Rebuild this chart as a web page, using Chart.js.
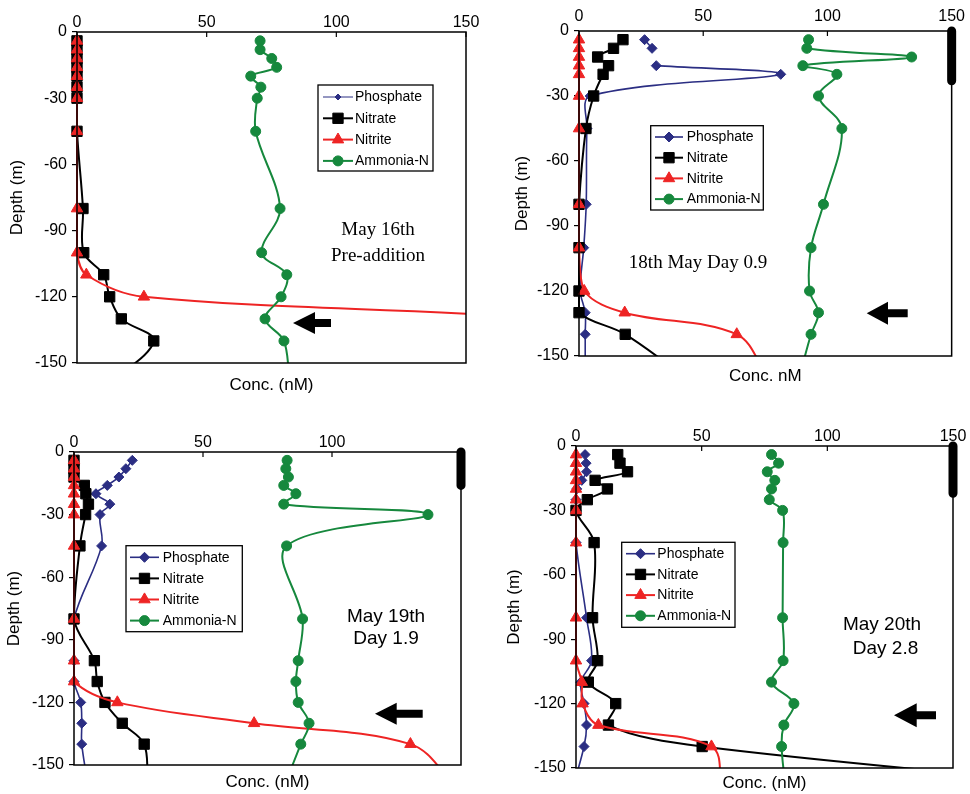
<!DOCTYPE html>
<html>
<head>
<meta charset="utf-8">
<script src="https://cdn.jsdelivr.net/npm/chart.js@4.4.1/dist/chart.umd.min.js"></script>
<style>
body { margin: 0; background: #fff; width: 970px; height: 794px; position: relative; overflow: hidden; }
canvas { position: absolute; }
</style>
</head>
<body>
<canvas id="c1" width="485" height="397" style="left:0;top:0"></canvas>
<canvas id="c2" width="485" height="397" style="left:485px;top:0"></canvas>
<canvas id="c3" width="485" height="397" style="left:0;top:397px"></canvas>
<canvas id="c4" width="485" height="397" style="left:485px;top:397px"></canvas>
<script>
// sampling depths (m); the last depth lies below the plotted range
var depths = [-4, -8, -12, -16, -20, -25, -30, -45, -80, -100, -110, -120, -130, -140, -160];
var depthsDay09 = [-4, -8, -12, -16, -20, -30, -45, -80, -100, -120, -130, -140, -160];

// May 16th, pre-addition
var phos1 = [];
var nitrate1 = [0, 0, 0, 0, 0, 0, 0, 0, 2.3, 2.6, 10.3, 12.6, 17.1, 29.6, 12];
var nitrite1 = [0, 0, 0, 0, 0, 0, 0, 0, 0, 0, 3.6, 25.8, 180, 230, null];
var ammonia1 = [70.6, 70.6, 75.1, 77.0, 67.0, 70.9, 69.5, 68.9, 78.3, 71.2, 80.9, 78.7, 72.5, 79.8, 82];

// 18th May, day 0.9
var phos2 = [26.4, 29.4, null, 31.1, 81.2, 4.5, 3.2, 2.9, 1.9, 0.5, 2.5, 2.5, 2.5];
var nitrate2 = [17.7, 13.9, 7.5, 11.9, 9.7, 5.9, 2.8, 0, 0, 0, 0, 18.6, 43];
var nitrite2 = [0, 0, 0, 0, 0, 0, 0, 0, 0, 2.1, 18.4, 63.5, 76];
var ammonia2 = [92.4, 91.7, 133.9, 90.1, 103.8, 96.4, 105.8, 98.4, 93.4, 92.8, 96.4, 93.4, 88.6];

// May 19th, day 1.9
var phos3 = [22.6, 20.1, 17.4, 12.9, 8.5, 13.9, 10.1, 10.7, 0, 0, 0, 2.6, 3.0, 3.0, 5.5];
var nitrate3 = [0, 0, 0, 4.0, 4.6, 5.6, 4.5, 2.3, 0, 7.9, 9.0, 12.0, 18.7, 27.2, 28.5];
var nitrite3 = [0, 0, 0, 0, 0, 0, 0, 0, 0, 0, 0, 16.8, 69.8, 130.4, 148];
var ammonia3 = [82.6, 82.1, 83.1, 81.3, 86.0, 81.3, 137.2, 82.4, 88.6, 86.9, 86.0, 86.9, 91.1, 87.9, 81.5];

// May 20th, day 2.8
var phos4 = [3.6, 4.0, 4.2, 2.3, 0.3, 0, 0, 0, 4.2, 6.2, 1.9, 3.2, 4.2, 3.2, -1.5];
var nitrate4 = [16.6, 17.5, 20.5, 7.6, 12.5, 4.5, 0, 7.2, 6.6, 8.6, 4.9, 15.8, 12.9, 50.2, 221];
var nitrite4 = [0, 0, 0, 0, 0, 0, 0, 0, 0, 0, 2.3, 2.6, 8.9, 53.9, 58];
var ammonia4 = [77.8, 80.6, 76.1, 79.1, 77.8, 76.9, 82.2, 82.4, 82.2, 82.4, 77.8, 86.7, 82.7, 81.8, 83.5];

// mixed layer bar at the right edge (depth of its bottom), none on May 16th
var mixLayer = [null, -23, -16, -22];

var seriesNames = ['Phosphate', 'Nitrate', 'Nitrite', 'Ammonia-N'];
var concTicks = [0, 50, 100, 150];
var depthTicks = [0, -30, -60, -90, -120, -150];
var xTitles = ['Conc. (nM)', 'Conc. nM', 'Conc. (nM)', 'Conc. (nM)'];
var notes = [['May 16th', 'Pre-addition'], ['18th May Day 0.9'], ['May 19th', 'Day 1.9'], ['May 20th', 'Day 2.8']];

var styles = [
    { color: '#2B2E83', point: 'rectRot', r: 5, w: 1.6 },
    { color: '#000000', point: 'rect', r: 7.3, w: 2 },
    { color: '#EE2424', point: 'triangle', r: 6.6, w: 2 },
    { color: '#16883D', point: 'circle', r: 5, w: 2 }
];

var panels = [
    { id: 'c1', depth: depths, vals: [phos1, nitrate1, nitrite1, ammonia1], area: [77, 32, 466, 363], tickPad: 0,
      yTitlePad: 7.4, xTitlePad: 1.4, noteFont: '19px "Liberation Serif"', noteXY: [[378, 230], [378, 256]],
      arrow: { tip: 293, base: 315, tail: 331, y: 323, head: 22, shaft: 8 },
      legend: { x: 318, y: 85, w: 115, h: 86, row0: 97, gap: 21.3, lx: 323, len: 30, tx: 355 }, thinPhos: true },
    { id: 'c2', depth: depthsDay09, vals: [phos2, nitrate2, nitrite2, ammonia2], area: [94, 31, 467, 356], tickPad: 5,
      yTitlePad: 27.4, xTitlePad: 10.4, noteFont: '19px "Liberation Serif"', noteXY: [[213, 263]],
      arrow: { tip: 381.7, base: 403, tail: 422.7, y: 313.3, head: 23, shaft: 8 },
      legend: { x: 165.7, y: 125.7, w: 112.6, h: 84.3, row0: 137, gap: 20.7, lx: 170, len: 28, tx: 201.7 } },
    { id: 'c3', depth: depths, vals: [phos3, nitrate3, nitrite3, ammonia3], area: [74, 55, 461, 368], tickPad: 0,
      yTitlePad: 4.4, xTitlePad: 1.4, noteFont: '19px "Liberation Sans"', noteXY: [[386, 219.7], [386, 241.3]],
      arrow: { tip: 375, base: 396.7, tail: 422.7, y: 316.8, head: 22, shaft: 8 },
      legend: { x: 126, y: 148.7, w: 116.3, h: 86, row0: 160.3, gap: 21.1, lx: 130, len: 29, tx: 162.7 }, hide150: true },
    { id: 'c4', depth: depths, vals: [phos4, nitrate4, nitrite4, ammonia4], area: [91, 49, 468, 371], tickPad: 0,
      yTitlePad: 19.4, xTitlePad: 0, noteFont: '19px "Liberation Sans"', noteXY: [[397, 228], [400.5, 251.3]],
      arrow: { tip: 409, base: 431.7, tail: 451, y: 318.3, head: 24, shaft: 8 },
      legend: { x: 136.7, y: 145.3, w: 113.3, h: 85, row0: 156.7, gap: 20.7, lx: 141, len: 29, tx: 172.3 } }
];

Chart.defaults.font.family = '"Liberation Sans", Arial, sans-serif';
Chart.defaults.font.size = 16;
Chart.defaults.color = '#000';

function marker(ctx, st, x, y) {
    if (Chart.helpers && Chart.helpers.drawPoint) {
        ctx.fillStyle = st.color;
        ctx.strokeStyle = st.color;
        ctx.lineWidth = 1;
        Chart.helpers.drawPoint(ctx, { pointStyle: st.point, radius: st.r, rotation: 0, borderWidth: 1 }, x, y);
    }
}

var decor = {
    id: 'decor',
    afterDatasetsDraw: function (chart, args, o) {
        var ctx = chart.ctx, a = chart.chartArea, xs = chart.scales.x;
        ctx.save();
        ctx.strokeStyle = '#000';
        ctx.lineWidth = 1.2;
        concTicks.forEach(function (v) {
            var px = xs.getPixelForValue(v);
            ctx.beginPath();
            ctx.moveTo(px, a.top);
            ctx.lineTo(px, a.top + 5);
            ctx.stroke();
        });
        ctx.lineWidth = 1.5;
        ctx.strokeRect(a.left, a.top, a.right - a.left, a.bottom - a.top);

        // date notes
        ctx.fillStyle = '#000';
        ctx.font = o.p.noteFont;
        ctx.textAlign = 'center';
        ctx.textBaseline = 'middle';
        o.note.forEach(function (t, i) {
            ctx.fillText(t, o.p.noteXY[i][0], o.p.noteXY[i][1]);
        });

        // arrow
        var ar = o.p.arrow;
        ctx.beginPath();
        ctx.moveTo(ar.tip, ar.y);
        ctx.lineTo(ar.base, ar.y - ar.head / 2);
        ctx.lineTo(ar.base, ar.y - ar.shaft / 2);
        ctx.lineTo(ar.tail, ar.y - ar.shaft / 2);
        ctx.lineTo(ar.tail, ar.y + ar.shaft / 2);
        ctx.lineTo(ar.base, ar.y + ar.shaft / 2);
        ctx.lineTo(ar.base, ar.y + ar.head / 2);
        ctx.closePath();
        ctx.fill();

        // boxed legend
        var lg = o.p.legend;
        ctx.fillStyle = '#fff';
        ctx.fillRect(lg.x, lg.y, lg.w, lg.h);
        ctx.strokeStyle = '#000';
        ctx.lineWidth = 1.3;
        ctx.strokeRect(lg.x, lg.y, lg.w, lg.h);
        seriesNames.forEach(function (name, i) {
            var st = o.styles[i];
            var ry = lg.row0 + i * lg.gap;
            ctx.strokeStyle = st.color;
            ctx.lineWidth = st.w;
            ctx.beginPath();
            ctx.moveTo(lg.lx, ry);
            ctx.lineTo(lg.lx + lg.len, ry);
            ctx.stroke();
            marker(ctx, st, lg.lx + lg.len / 2, ry);
            ctx.fillStyle = '#000';
            ctx.font = '14px "Liberation Sans"';
            ctx.textAlign = 'left';
            ctx.textBaseline = 'middle';
            ctx.fillText(name, lg.tx, ry + 0.5);
        });
        ctx.restore();
    }
};

function toXY(dep, vals) {
    return vals.map(function (v, i) { return { x: v, y: dep[i] }; });
}

panels.forEach(function (p, k) {
    var W = 485, H = 397;
    var st = styles.map(function (s, i) {
        if (i === 0 && p.thinPhos) return { color: s.color, point: s.point, r: 3, w: 1 };
        return s;
    });
    var datasets = seriesNames.map(function (name, i) {
        return {
            label: name,
            data: toXY(p.depth, p.vals[i]),
            showLine: true,
            borderColor: st[i].color,
            backgroundColor: st[i].color,
            borderWidth: st[i].w,
            pointStyle: st[i].point,
            pointRadius: st[i].r,
            pointHoverRadius: st[i].r,
            pointBorderWidth: 1,
            pointBackgroundColor: st[i].color,
            pointBorderColor: st[i].color,
            tension: 0.35,
            order: 3 - i,
            clip: { left: 10, top: 10, right: 0, bottom: 0 }
        };
    });
    if (mixLayer[k] !== null) {
        datasets.push({
            label: 'mixed layer',
            data: [{ x: concTicks[3], y: 0 }, { x: concTicks[3], y: mixLayer[k] }],
            showLine: true,
            borderColor: '#000',
            borderWidth: 9,
            borderCapStyle: 'round',
            pointRadius: 0,
            tension: 0,
            order: -1,
            clip: false
        });
    }
    new Chart(document.getElementById(p.id), {
        type: 'scatter',
        data: { datasets: datasets },
        plugins: [decor],
        options: {
            responsive: false,
            animation: false,
            events: [],
            layout: { padding: { left: 0, top: 0, right: W - p.area[2], bottom: 0 } },
            plugins: {
                legend: { display: false },
                tooltip: { enabled: false },
                decor: { p: p, note: notes[k], styles: st }
            },
            scales: {
                x: {
                    type: 'linear', position: 'top', min: 0, max: 150,
                    afterBuildTicks: function (s) { s.ticks = concTicks.map(function (v) { return { value: v }; }); },
                    afterFit: function (s) { s.height = p.area[1]; },
                    grid: { display: false, drawTicks: false },
                    border: { display: false },
                    ticks: {
                        padding: p.tickPad, maxRotation: 0,
                        callback: function (v) { return (p.hide150 && v === 150) ? '' : v; }
                    }
                },
                xb: {
                    type: 'linear', position: 'bottom', min: 0, max: 150,
                    afterFit: function (s) { s.height = H - p.area[3]; },
                    grid: { display: false, drawTicks: false },
                    border: { display: false },
                    ticks: { display: false },
                    title: { display: true, text: xTitles[k], font: { size: 17 }, padding: { top: 0, bottom: p.xTitlePad } }
                },
                y: {
                    type: 'linear', position: 'left', min: -150, max: 0,
                    afterBuildTicks: function (s) { s.ticks = depthTicks.map(function (v) { return { value: v }; }); },
                    afterFit: function (s) { s.width = p.area[0]; },
                    grid: { drawOnChartArea: false, tickLength: 5, color: '#000', lineWidth: 1.2 },
                    border: { display: false },
                    ticks: { padding: 5 },
                    title: { display: true, text: 'Depth (m)', font: { size: 17 }, padding: { top: p.yTitlePad, bottom: 0 } }
                }
            }
        }
    });
});
</script>
</body>
</html>
